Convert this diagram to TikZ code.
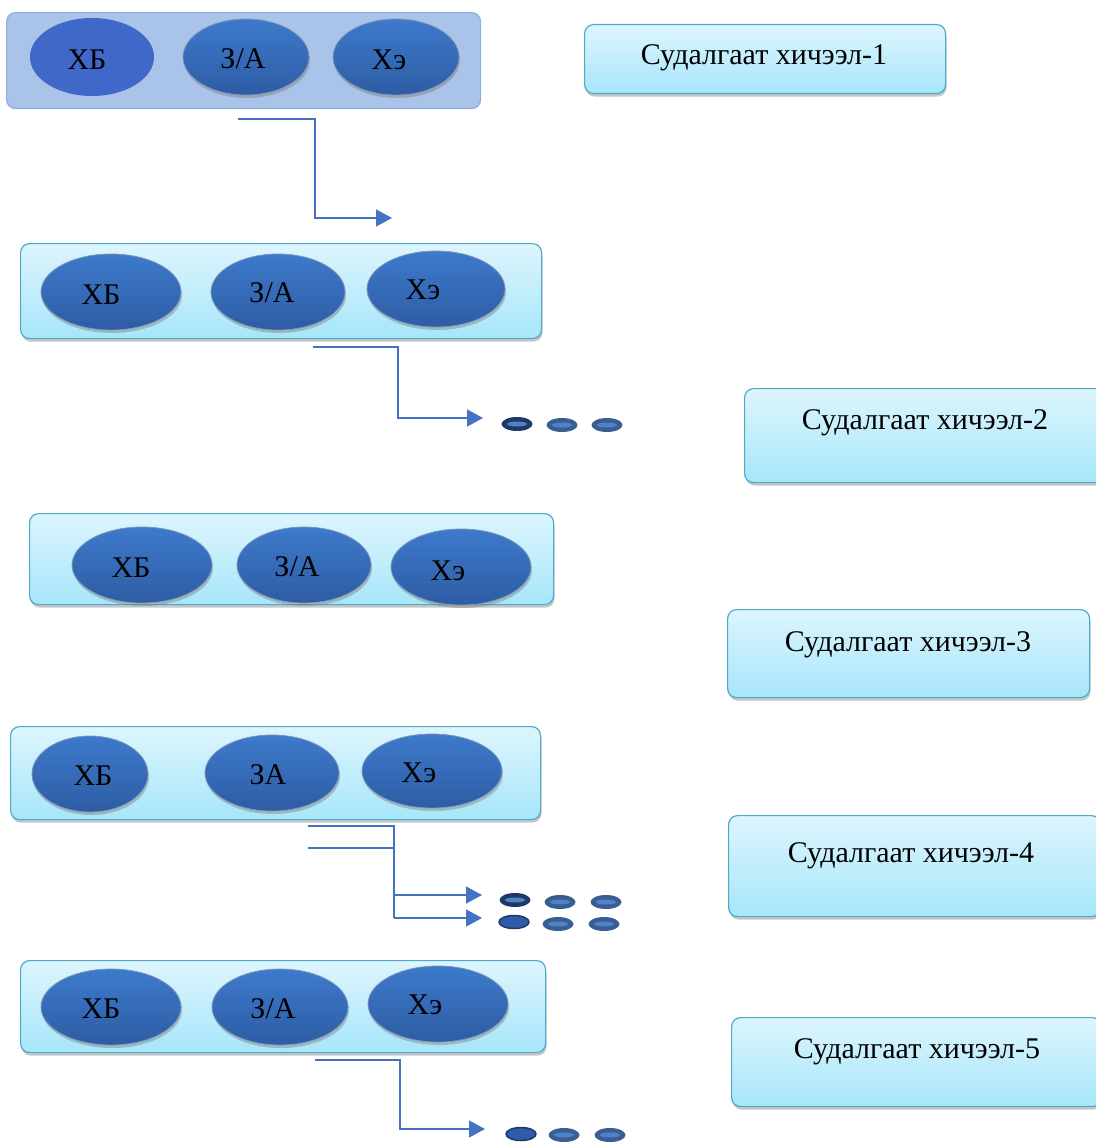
\documentclass[tikz,border=0pt]{standalone}
\usepackage{fontspec}
\setmainfont{Liberation Serif}
\usetikzlibrary{shapes.geometric,shadows,arrows.meta}
\definecolor{rowone}{HTML}{A9C3E9}
\definecolor{rowoneb}{HTML}{8DB0E4}
\definecolor{cyantop}{HTML}{DDF5FD}
\definecolor{cyanbot}{HTML}{A6E6FA}
\definecolor{cyanb}{HTML}{4FAACA}
\definecolor{ellflat}{HTML}{3F68C8}
\definecolor{elltop}{HTML}{3D7ACB}
\definecolor{ellbot}{HTML}{2E5CA4}
\definecolor{elledge}{HTML}{2A4F8C}
\definecolor{linecol}{HTML}{4472C4}
\definecolor{navy}{HTML}{1F3864}
\definecolor{dotcol}{HTML}{3A5E92}
\definecolor{dotin}{HTML}{4F82C6}
\definecolor{dotmid}{HTML}{2F5BAA}
\tikzset{
  rowbox/.style={draw=cyanb, line width=1.2pt, rounded corners=9pt, top color=cyantop, bottom color=cyanbot,
    drop shadow={shadow xshift=1pt, shadow yshift=-3pt, opacity=0.45}},
  rowboxone/.style={draw=rowoneb, line width=1.2pt, rounded corners=9pt, fill=rowone},
  lesson/.style={draw=cyanb, line width=1.2pt, rounded corners=9pt, top color=cyantop, bottom color=cyanbot,
    drop shadow={shadow xshift=1pt, shadow yshift=-3pt, opacity=0.45}},
  ell/.style={ellipse, inner sep=0pt, top color=elltop, bottom color=ellbot, draw=elledge!60, line width=0.8pt,
    drop shadow={shadow xshift=1pt, shadow yshift=-3pt, opacity=0.45}},
  ellflatst/.style={ellipse, inner sep=0pt, fill=ellflat, draw=none},
  lbl/.style={font=\fontsize{30}{36}\selectfont, inner sep=0pt},
  conn/.style={draw=linecol, line width=1.3pt, -{Triangle[length=16pt,width=17pt]}},
  connplain/.style={draw=linecol, line width=1.3pt},
  dotdark/.style={ellipse, inner sep=0pt, minimum width=31pt, minimum height=14pt, fill=navy},
  dotreg/.style={ellipse, inner sep=0pt, minimum width=31pt, minimum height=14pt, fill=dotcol},
  dotblue/.style={ellipse, inner sep=0pt, minimum width=30pt, minimum height=13pt, fill=dotmid, draw=navy, line width=1.5pt},
  stripe/.style={ellipse, inner sep=0pt, minimum width=20pt, minimum height=5pt, fill=dotin},
}
\begin{document}
\begin{tikzpicture}[x=1pt,y=-1pt]
\useasboundingbox (0,0) rectangle (1095,1142);

% ---------- Row 1 ----------
\node[rowboxone, minimum width=474pt, minimum height=96pt, anchor=north west] (r1) at (6,12) {};
\node[ellflatst, minimum width=124pt, minimum height=78pt] (r1a) at (92,57) {};
\node[ell, minimum width=126pt, minimum height=76pt] (r1b) at (246,57) {};
\node[ell, minimum width=126pt, minimum height=76pt] (r1c) at (396,57) {};
\node[lbl] (t1a) at (87,60) {ХБ};
\node[lbl] (t1b) at (243,59) {З/А};
\node[lbl] (t1c) at (389,60) {Хэ};
\node[lesson, minimum width=361pt, minimum height=69pt, anchor=north west] (l1box) at (584,24) {};
\node[lbl] (l1) at (764,58) {Судалгаат хичээл-1};

\coordinate (c1s) at (238,119);
\coordinate (c1m) at (315,119);
\coordinate (c1e) at (392,218);
\draw[conn] (c1s) -- (c1m) |- (c1e);

% ---------- Row 2 ----------
\node[rowbox, minimum width=521pt, minimum height=95pt, anchor=north west] (r2) at (20,243) {};
\node[ell, minimum width=140pt, minimum height=76pt] (r2a) at (111,292) {};
\node[ell, minimum width=134pt, minimum height=76pt] (r2b) at (278,292) {};
\node[ell, minimum width=138pt, minimum height=76pt] (r2c) at (436,289) {};
\node[lbl] (t2a) at (101,295) {ХБ};
\node[lbl] (t2b) at (272,293) {З/А};
\node[lbl] (t2c) at (423,290) {Хэ};
\node[lesson, minimum width=360pt, minimum height=94pt, anchor=north west] (l2box) at (744,388) {};
\node[lbl] (l2) at (925,423) {Судалгаат хичээл-2};

\coordinate (c2s) at (313,347);
\coordinate (c2m) at (398,347);
\coordinate (c2e) at (483,418);
\draw[conn] (c2s) -- (c2m) |- (c2e);
\node[dotdark] (d2a) at (517,424) {};
\node[stripe] (d2as) at (517,424) {};
\node[dotreg] (d2b) at (562,425) {};
\node[stripe] (d2bs) at (562,425) {};
\node[dotreg] (d2c) at (607,425) {};
\node[stripe] (d2cs) at (607,425) {};

% ---------- Row 3 ----------
\node[rowbox, minimum width=524pt, minimum height=91pt, anchor=north west] (r3) at (29,513) {};
\node[ell, minimum width=140pt, minimum height=76pt] (r3a) at (142,565) {};
\node[ell, minimum width=134pt, minimum height=76pt] (r3b) at (304,565) {};
\node[ell, minimum width=140pt, minimum height=76pt] (r3c) at (461,567) {};
\node[lbl] (t3a) at (131,568) {ХБ};
\node[lbl] (t3b) at (297,567) {З/А};
\node[lbl] (t3c) at (448,571) {Хэ};
\node[lesson, minimum width=362pt, minimum height=88pt, anchor=north west] (l3box) at (727,609) {};
\node[lbl] (l3) at (908,645) {Судалгаат хичээл-3};

% ---------- Row 4 ----------
\node[rowbox, minimum width=530pt, minimum height=93pt, anchor=north west] (r4) at (10,726) {};
\node[ell, minimum width=116pt, minimum height=76pt] (r4a) at (90,774) {};
\node[ell, minimum width=134pt, minimum height=76pt] (r4b) at (272,773) {};
\node[ell, minimum width=140pt, minimum height=74pt] (r4c) at (432,771) {};
\node[lbl] (t4a) at (93,776) {ХБ};
\node[lbl] (t4b) at (268,775) {ЗА};
\node[lbl] (t4c) at (419,773) {Хэ};
\node[lesson, minimum width=372pt, minimum height=101pt, anchor=north west] (l4box) at (728,815) {};
\node[lbl] (l4) at (911,856) {Судалгаат хичээл-4};

\coordinate (c4s1) at (308,826);
\coordinate (c4m1) at (394,826);
\coordinate (c4s2) at (308,848);
\coordinate (c4m2) at (394,848);
\coordinate (c4m3) at (394,895);
\coordinate (c4m4) at (394,918);
\coordinate (c4e1) at (482,895);
\coordinate (c4e2) at (482,918);
\draw[connplain] (c4s1) -- (c4m1) -- (c4m4);
\draw[connplain] (c4s2) -- (c4m2);
\draw[conn] (c4m3) -- (c4e1);
\draw[conn] (c4m4) -- (c4e2);
\node[dotdark] (d4a) at (515,900) {};
\node[stripe] (d4as) at (515,900) {};
\node[dotreg] (d4b) at (560,902) {};
\node[stripe] (d4bs) at (560,902) {};
\node[dotreg] (d4c) at (606,902) {};
\node[stripe] (d4cs) at (606,902) {};
\node[dotblue] (d4d) at (514,922) {};
\node[dotreg] (d4e) at (558,924) {};
\node[stripe] (d4es) at (558,924) {};
\node[dotreg] (d4f) at (604,924) {};
\node[stripe] (d4fs) at (604,924) {};

% ---------- Row 5 ----------
\node[rowbox, minimum width=525pt, minimum height=92pt, anchor=north west] (r5) at (20,960) {};
\node[ell, minimum width=140pt, minimum height=76pt] (r5a) at (111,1007) {};
\node[ell, minimum width=136pt, minimum height=76pt] (r5b) at (280,1007) {};
\node[ell, minimum width=140pt, minimum height=76pt] (r5c) at (438,1004) {};
\node[lbl] (t5a) at (101,1009) {ХБ};
\node[lbl] (t5b) at (273,1009) {З/А};
\node[lbl] (t5c) at (425,1005) {Хэ};
\node[lesson, minimum width=370pt, minimum height=89pt, anchor=north west] (l5box) at (731,1017) {};
\node[lbl] (l5) at (917,1052) {Судалгаат хичээл-5};

\coordinate (c5s) at (315,1060);
\coordinate (c5m) at (400,1060);
\coordinate (c5e) at (485,1129);
\draw[conn] (c5s) -- (c5m) |- (c5e);
\node[dotblue] (d5a) at (521,1134) {};
\node[dotreg] (d5b) at (564,1135) {};
\node[stripe] (d5bs) at (564,1135) {};
\node[dotreg] (d5c) at (610,1135) {};
\node[stripe] (d5cs) at (610,1135) {};
\end{tikzpicture}
\end{document}
